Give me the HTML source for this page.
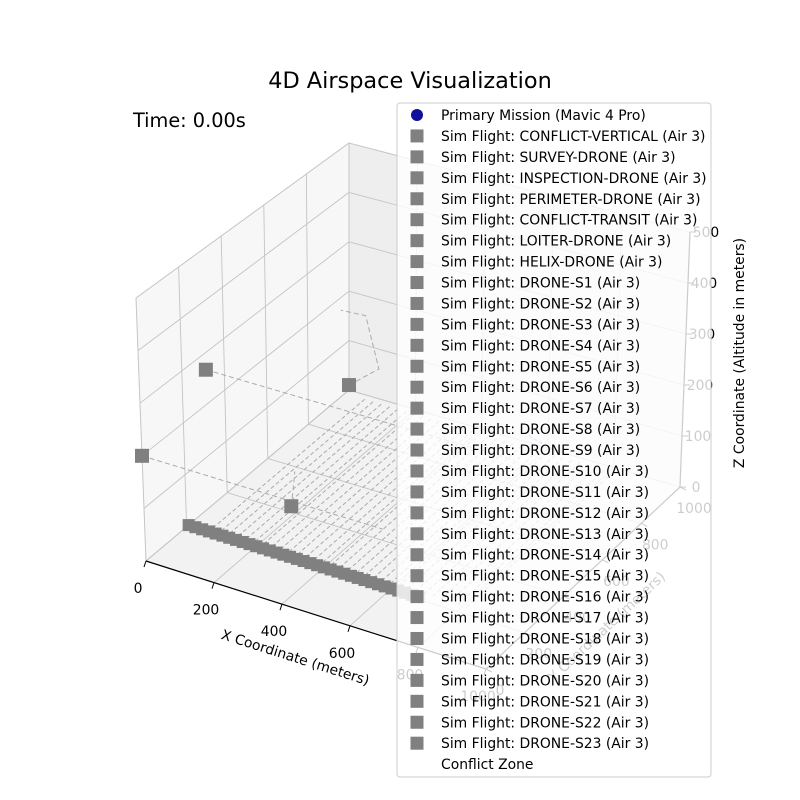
<!DOCTYPE html>
<html><head><meta charset="utf-8"><style>
body{margin:0;background:#fff;}
svg{display:block;font-family:"DejaVu Sans","Liberation Sans",sans-serif;}
</style></head><body>
<svg id="chart" width="800" height="800" viewBox="0 0 800 800">
<rect width="800" height="800" fill="#fff"/>
<g id="panes"></g><g id="grid"></g><g id="data"></g><g id="axes"></g>
<text x="410" y="88" text-anchor="middle" font-size="22.4">4D Airspace Visualization</text>
<text x="133" y="127" font-size="19.3">Time: 0.00s</text>
<g id="legend"></g>
</svg>
<script>
const xTicks=[0,200,400,600,800,1000];
const yTicks=[0,200,400,600,800,1000];
const zTicks=[0,100,200,300,400,500];
const rowXs=[0,20,40,60,80,100,120,140,160,180,200,220,240,260,280,300,320,340,360,380,400,420,440,460,480,500,520,540,560,580,600,620,640,660,680];
const rowY=210;
const surveyXs=[60,85,110,135,160,185,210,235,260,285,310,335,360,385,410,435,460,485,510,535,560,585,610,635,660,685,710,735,760,785,810];
const surveyYRange=[230,985];
const squareX=[0,0,0,175];
const squareY=[0,313,1000,426];
const squareZ=[200,267,10,0];
const pathA=[[0,0,200],[700,0,200]];
const pathB=[[0,313,267],[900,313,267]];
const pathC=[[0,1000,10],[90,1000,60],[50,1000,160],[0,960,175]];
const pathD=[[175,426,0],[175,440,40],[160,470,50]];
const primaryPath=[[600,900,60],[640,940,30],[680,980,10]];
const legendLabels=["Primary Mission (Mavic 4 Pro)","Sim Flight: CONFLICT-VERTICAL (Air 3)","Sim Flight: SURVEY-DRONE (Air 3)","Sim Flight: INSPECTION-DRONE (Air 3)","Sim Flight: PERIMETER-DRONE (Air 3)","Sim Flight: CONFLICT-TRANSIT (Air 3)","Sim Flight: LOITER-DRONE (Air 3)","Sim Flight: HELIX-DRONE (Air 3)"];
for(let i=1;i<=23;i++)legendLabels.push("Sim Flight: DRONE-S"+i+" (Air 3)");
legendLabels.push("Conflict Zone");

const NS="http://www.w3.org/2000/svg";
const P00=[146,561],P10=[486,669],P01=[349,390],P11=[680,487];
const D00=[-10,-263],D10=[0,-271],D01=[0,-247],D11=[10,-255];
function bil(a,b,c,d,u,v){return [(1-u)*(1-v)*a[0]+u*(1-v)*b[0]+(1-u)*v*c[0]+u*v*d[0],(1-u)*(1-v)*a[1]+u*(1-v)*b[1]+(1-u)*v*c[1]+u*v*d[1]];}
function proj(x,y,z){const u=x/1000,v=y/1000,f=bil(P00,P10,P01,P11,u,v),d=bil(D00,D10,D01,D11,u,v),t=z/500;return [f[0]+d[0]*t,f[1]+d[1]*t];}
function el(tag,attrs,parent){const e=document.createElementNS(NS,tag);for(const k in attrs)e.setAttribute(k,attrs[k]);parent.appendChild(e);return e;}
function pts(arr){return arr.map(p=>proj(p[0],p[1],p[2]).join(",")).join(" ");}
const panes=document.getElementById('panes'),grid=document.getElementById('grid'),data=document.getElementById('data'),axes=document.getElementById('axes'),legend=document.getElementById('legend');

let e;
e=el('polygon',{points:pts([[0,0,0],[1000,0,0],[1000,1000,0],[0,1000,0]]),fill:'#f2f2f2',stroke:'#e6e6e6'},panes);


e=el('polygon',{points:pts([[0,0,0],[0,1000,0],[0,1000,500],[0,0,500]]),fill:'#f7f7f7',stroke:'#e6e6e6'},panes);


e=el('polygon',{points:pts([[0,1000,0],[1000,1000,0],[1000,1000,500],[0,1000,500]]),fill:'#eeeeee',stroke:'#e6e6e6'},panes);



function gl(a,b,name){const p=proj(...a),q=proj(...b);const l=el('line',{x1:p[0],y1:p[1],x2:q[0],y2:q[1],stroke:'#c4c4c4','stroke-width':0.9},grid);}
xTicks.forEach(x=>{gl([x,0,0],[x,1000,0],'floor-grid-x');gl([x,1000,0],[x,1000,500],'back-grid-x');});
yTicks.forEach(y=>{gl([0,y,0],[1000,y,0],'floor-grid-y');gl([0,y,0],[0,y,500],'left-grid-y');});
zTicks.forEach(z=>{gl([0,0,z],[0,1000,z],'left-grid-z');gl([0,1000,z],[1000,1000,z],'back-grid-z');});

surveyXs.forEach(x=>{const p=proj(x,surveyYRange[0],0),q=proj(x,surveyYRange[1],0);
const l=el('line',{x1:p[0],y1:p[1],x2:q[0],y2:q[1],stroke:'#aaaaaa','stroke-width':1,'stroke-dasharray':'4,2.5'},data);

});
[pathA,pathB,pathC,pathD].forEach(pa=>{const l=el('polyline',{points:pts(pa),fill:'none',stroke:'#aaaaaa','stroke-width':1,'stroke-dasharray':'5,3'},data);

});
e=el('polyline',{points:pts(primaryPath),fill:'none',stroke:'#6666ff','stroke-width':1,'stroke-dasharray':'4,2'},data);


rowXs.forEach(x=>{const p=proj(x,rowY,0);const r=el('rect',{x:p[0]-6,y:p[1]-6,width:12,height:12,fill:'#808080'},data);

});
squareX.forEach((x,i)=>{const p=proj(x,squareY[i],squareZ[i]);const r=el('rect',{x:p[0]-7,y:p[1]-7,width:14,height:14,fill:'#808080'},data);

});

function line(a,b,name,c,w){const l=el('line',{x1:a[0],y1:a[1],x2:b[0],y2:b[1],stroke:c,'stroke-width':w},axes);}
function txt(x,y,s,name,extra){const t=el('text',Object.assign({x:x,y:y,'font-size':13.9,'text-anchor':'middle'},extra||{}),axes);t.textContent=s;return t;}
line(proj(0,0,0),proj(1000,0,0),'x-axis-line','#000',1.2);
xTicks.forEach(x=>{const p=proj(x,0,0);line(p,[p[0]-2,p[1]+6],'x-tick','#000',1);txt(p[0]-8,p[1]+32,x,'x-tick-label');});
txt(294,662,'X Coordinate (meters)','x-axis-title',{transform:'rotate(17.6 294 662)'});
line(proj(1000,0,0),proj(1000,1000,0),'y-axis-line','#000',1.2);
yTicks.forEach(y=>{const p=proj(1000,y,0);line(p,[p[0]+6,p[1]+3],'y-tick','#000',1);txt(p[0]+14,p[1]+26,y,'y-tick-label');});
txt(610,630,'Y Coordinate (meters)','y-axis-title',{transform:'rotate(-43 610 630)'});
line(proj(1000,1000,0),proj(1000,1000,500),'z-axis-line','#000',1.2);
zTicks.forEach(z=>{const p=proj(1000,1000,z);line(p,[p[0]+6,p[1]],'z-tick','#000',1);txt(p[0]+16,p[1]+5,z,'z-tick-label');});
txt(744,353,'Z Coordinate (Altitude in meters)','z-axis-title',{transform:'rotate(-90 744 353)'});

e=el('rect',{x:397,y:103,width:314,height:674,rx:3,fill:'rgba(255,255,255,0.8)',stroke:'#cccccc'},legend);


legendLabels.forEach((s,i)=>{const y=115+i*20.94;
const g=el('g',{},legend);


if(i===0){el('circle',{cx:417,cy:y,r:6,fill:'#10109a'},g);}
else if(i<legendLabels.length-1){el('rect',{x:410.5,y:y-6.5,width:13,height:13,fill:'#808080'},g);}
const t=el('text',{x:441,y:y+5,'font-size':13.9},g);t.textContent=s;});
</script>
</body></html>
